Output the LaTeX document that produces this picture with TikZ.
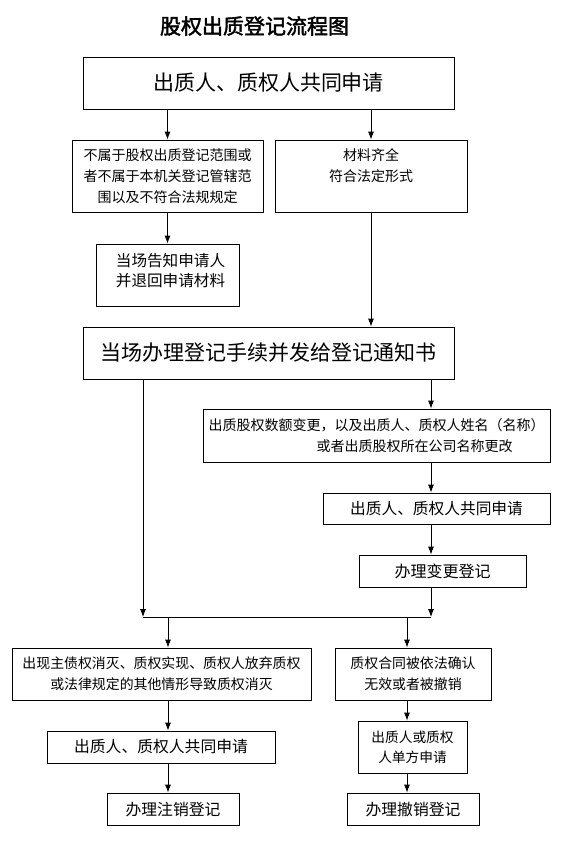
\documentclass[tikz,border=0pt]{standalone}
\usepackage{fontspec}
\setmainfont{Noto Sans CJK SC}[AutoFakeBold=2]
\usepackage{tikz}
\usetikzlibrary{arrows.meta}
\begin{document}
\begin{tikzpicture}[x=1pt,y=-1pt,
		flowbox/.style={draw,line width=0.8pt,align=center,inner sep=0pt},
		flowarrow/.style={-{Latex[length=8pt,width=6pt]},line width=0.8pt}]
		\useasboundingbox (0,0) rectangle (564,844);
		\node[font=\fontsize{21}{21}\selectfont\bfseries] (title) at (254.5,26) {股权出质登记流程图};
		\node[flowbox,minimum width=371pt,minimum height=52pt,font=\fontsize{21}{21}\selectfont] (apply) at (268.5,83) {出质人、质权人共同申请};
		\node[flowbox,minimum width=191pt,minimum height=72pt,font=\fontsize{14}{21}\selectfont] (reject) at (167.5,176) {不属于股权出质登记范围或\\者不属于本机关登记管辖范\\围以及不符合法规规定};
		\node[flowbox,minimum width=192pt,minimum height=72pt,font=\fontsize{14}{21}\selectfont] (accept) at (371,176) {材料齐全\\符合法定形式\\\mbox{}};
		\node[flowbox,minimum width=143pt,minimum height=62pt,font=\fontsize{15.6}{20}\selectfont] (notify) at (167.5,275) {\hspace*{6pt}当场告知申请人\\\hspace*{6pt}并退回申请材料\\[-10pt]\mbox{}};
		\node[flowbox,minimum width=371pt,minimum height=52pt,font=\fontsize{21}{21}\selectfont] (register) at (268.5,353) {当场办理登记手续并发给登记通知书};
		\node[flowbox,align=left,minimum width=347pt,minimum height=53pt,font=\fontsize{14}{21}\selectfont] (change) at (376.5,435.5) {出质股权数额变更，以及出质人、质权人姓名（名称）\\\hspace*{108pt}或者出质股权所在公司名称更改};
		\node[flowbox,minimum width=227pt,minimum height=31pt,font=\fontsize{15.7}{20}\selectfont] (jointapply) at (436.5,508.5) {出质人、质权人共同申请};
		\node[flowbox,minimum width=167pt,minimum height=32pt,font=\fontsize{16}{20}\selectfont] (modify) at (442.5,571) {办理变更登记};
		\node[flowbox,minimum width=299pt,minimum height=52pt,font=\fontsize{13.9}{21}\selectfont] (extinct) at (161.5,674) {出现主债权消灭、质权实现、质权人放弃质权\\或法律规定的其他情形导致质权消灭};
		\node[flowbox,minimum width=156pt,minimum height=52pt,font=\fontsize{13.9}{21}\selectfont] (invalid) at (413,674) {质权合同被依法确认\\无效或者被撤销};
		\node[flowbox,minimum width=228pt,minimum height=32pt,font=\fontsize{15.8}{20}\selectfont] (cancelapply) at (161,747) {出质人、质权人共同申请};
		\node[flowbox,minimum width=132pt,minimum height=32pt,font=\fontsize{15.8}{20}\selectfont] (cancel) at (173,809) {办理注销登记};
		\node[flowbox,minimum width=109pt,minimum height=52pt,font=\fontsize{13.7}{20}\selectfont] (singleapply) at (412.5,747) {出质人或质权\\人单方申请};
		\node[flowbox,minimum width=132pt,minimum height=32pt,font=\fontsize{15.8}{20}\selectfont] (revoke) at (413,809) {办理撤销登记};
		\coordinate (lx) at (143,617);
		\coordinate (rx) at (431,617);
		\coordinate (ax) at (168,617);
		\coordinate (bx) at (407,617);
		\draw[flowarrow] (reject.north |- apply.south) -- (reject.north);
		\draw[flowarrow] (accept.north |- apply.south) -- (accept.north);
		\draw[flowarrow] (reject) -- (notify);
		\draw[flowarrow] (accept.south) -- (accept.south |- register.north);
		\draw[flowarrow] (register.south -| lx) -- (lx);
		\draw[flowarrow] (register.south -| rx) -- (change.north -| rx);
		\draw[flowarrow] (change.south -| rx) -- (jointapply.north -| rx);
		\draw[flowarrow] (jointapply.south -| rx) -- (modify.north -| rx);
		\draw[flowarrow] (modify.south -| rx) -- (rx);
		\draw[line width=0.8pt] (lx) -- (rx);
		\draw[flowarrow] (ax) -- (extinct.north -| ax);
		\draw[flowarrow] (bx) -- (invalid.north -| bx);
		\draw[flowarrow] (extinct.south -| ax) -- (cancelapply.north -| ax);
		\draw[flowarrow] (cancelapply.south -| ax) -- (cancel.north -| ax);
		\draw[flowarrow] (invalid.south -| bx) -- (singleapply.north -| bx);
		\draw[flowarrow] (singleapply.south -| bx) -- (revoke.north -| bx);
	\end{tikzpicture}
\end{document}
